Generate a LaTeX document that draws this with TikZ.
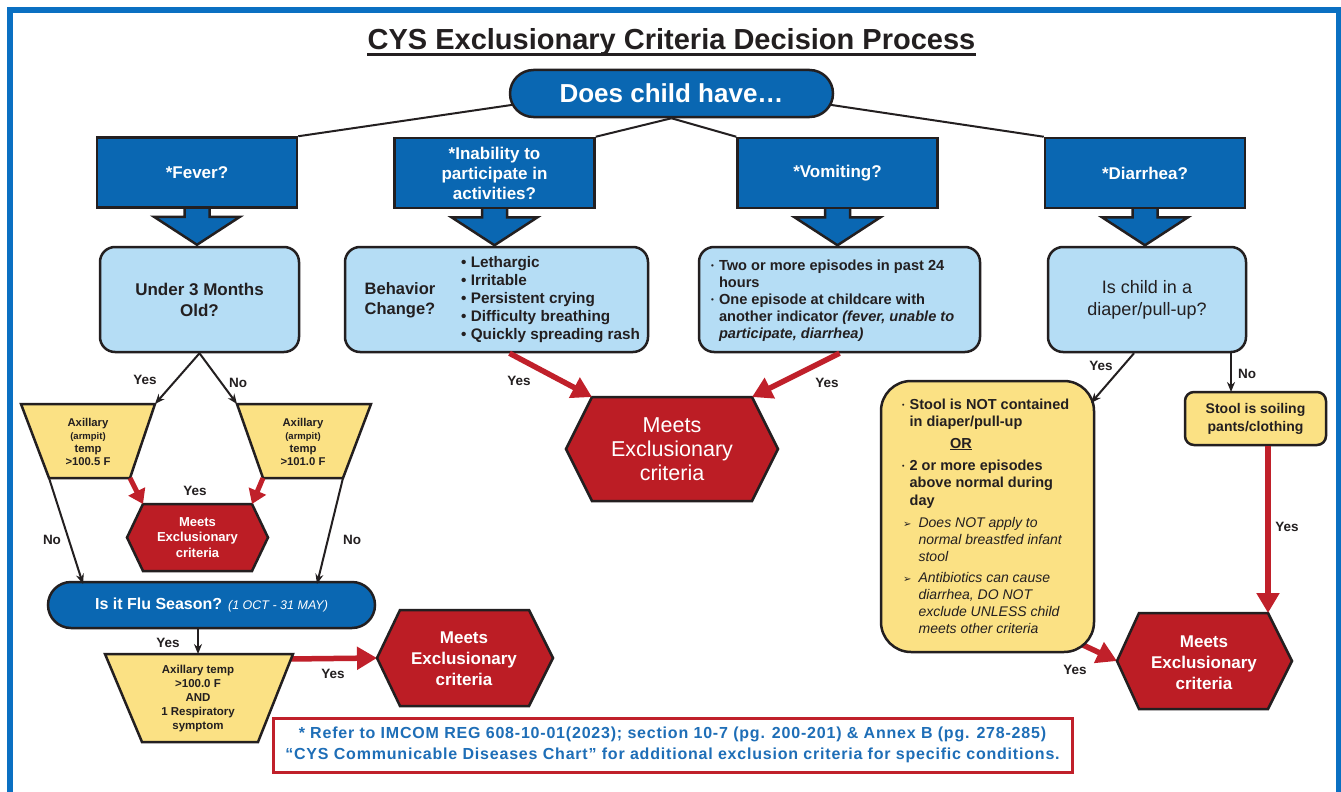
\documentclass[tikz,border=0pt]{standalone}
\usepackage{fontspec}
\setmainfont{Liberation Sans}
\newfontfamily\dejavu{DejaVu Sans}
\newfontfamily\notefont[LetterSpace=5]{Liberation Sans}
\usetikzlibrary{arrows.meta,calc}
\pgfdeclarelayer{bg}
\pgfsetlayers{bg,main}
\definecolor{frameblue}{HTML}{0A70C2}
\definecolor{boxblue}{HTML}{0A67B2}
\definecolor{lightblue}{HTML}{B5DDF5}
\definecolor{yel}{HTML}{FBE184}
\definecolor{hexred}{HTML}{BC1D25}
\definecolor{arrred}{HTML}{C0202A}
\definecolor{outl}{HTML}{231F20}
\definecolor{notetxt}{HTML}{1E6EB7}
\newcommand\fs[2]{\fontsize{#1}{#2}\selectfont}
\newcommand\blockarrow[1]{%
  \path[barrow] ($(#1.south)+(-12.5,-2)$) -- ($(#1.south)+(-12.5,8)$) -- ($(#1.south)+(-43,8)$)
    -- ($(#1.south)+(0,36)$) -- ($(#1.south)+(43,8)$) -- ($(#1.south)+(12.5,8)$)
    -- ($(#1.south)+(12.5,-2)$);}
\begin{document}
\begin{tikzpicture}[x=1pt,y=-1pt,
  outline/.style={draw=outl,line width=2.5pt},
  bluebox/.style={outline,fill=boxblue,text=white,font=\bfseries\fs{17}{20},align=center,inner sep=0pt,minimum width=200pt,minimum height=70pt},
  barrow/.style={fill=boxblue,draw=outl,line width=2.5pt,line join=miter},
  lightbox/.style={outline,fill=lightblue,rounded corners=15pt,inner sep=0pt,minimum width=#1,minimum height=105pt,align=center},
  ovalbox/.style={outline,fill=boxblue,text=white,inner sep=0pt,align=center},
  trap/.style={outline,fill=yel,line join=miter},
  traptext/.style={inner sep=0pt,align=center,text=outl,font=\bfseries\fs{11.3}{13}},
  hexshape/.style={outline,fill=hexred,line join=miter},
  hextext/.style={inner sep=0pt,align=center,text=white},
  yelbox/.style={outline,fill=yel,inner sep=0pt,align=center},
  conn/.style={draw=outl,line width=2pt},
  carrow/.style={conn,-{Stealth[length=10pt,width=8pt]}},
  rarrow/.style={draw=arrred,line width=5.5pt,-{Triangle[length=20pt,width=22pt]}},
  rarrowS/.style={draw=arrred,line width=5pt,-{Triangle[length=14pt,width=18pt]}},
  lbl/.style={inner sep=0pt,text=outl,font=\bfseries\fs{13.5}{16}},
  txt/.style={inner sep=0pt,text=outl}
]
\useasboundingbox (0,0) rectangle (1341,792);
\draw[frameblue,line width=5.5pt,line join=miter] (10,800) -- (10,10) -- (1339,10) -- (1339,800);

% title
\node[txt,font=\bfseries\fs{29}{33}] (title) at (671.5,42) {CYS Exclusionary Criteria Decision Process};
\draw[outl,line width=2.5pt] ($(title.base west)+(0,5)$) -- ($(title.base east)+(0,5)$);

% top oval
\node[ovalbox,rounded corners=23.5pt,minimum width=323pt,minimum height=47pt,font=\bfseries\fs{26}{30}] (does) at (671.5,93.5) {Does child have…};

% blue boxes
\node[bluebox] (fever) at (197,172.5) {*Fever?};
\node[bluebox] (inab) at (494.5,173) {*Inability to\\participate in\\activities?};
\node[bluebox] (vomit) at (837.5,173) {*Vomiting?};
\node[bluebox] (diarr) at (1145,173) {*Diarrhea?};

% light boxes
\node[lightbox=199pt,text=outl,font=\bfseries\fs{17}{21}] (under) at (199.5,299.5) {Under 3 Months\\Old?};
\node[lightbox=303pt] (behav) at (496.5,299.5) {};
\node[txt,align=left,font=\bfseries\fs{16.5}{20}] (behavq) at (400,300) {Behavior\\Change?};
\node[txt,anchor=west,align=left,font=\bfseries\fs{15.3}{18.2}] (behavl) at (461,299.5)
  {\textbullet\ Lethargic\\\textbullet\ Irritable\\\textbullet\ Persistent crying\\\textbullet\ Difficulty breathing\\\textbullet\ Quickly spreading rash};
\node[lightbox=281pt] (vbox) at (839.5,299.5) {};
\node[txt,anchor=base west,font=\bfseries\fs{14.6}{17}] (vtext) at (711,270)
  {\begin{tabular}[t]{@{}l@{\hspace{5pt}}l@{}}
   \raisebox{1.5pt}{\fs{8}{8}\textbullet} & Two or more episodes in past 24\\
   & hours\\
   \raisebox{1.5pt}{\fs{8}{8}\textbullet} & One episode at childcare with\\
   & another indicator \textit{(fever, unable to}\\
   & \textit{participate, diarrhea)}
   \end{tabular}};
\node[lightbox=198pt,text=outl,font=\fs{18}{22}] (diaper) at (1147,299.5) {Is child in a\\diaper/pull-up?};

% fever branch trapezoids
\draw[trap] (21,404) coordinate (axL-tl) -- (155,404) coordinate (axL-tr) -- (130,478) coordinate (axL-br) -- (49,478) coordinate (axL-bl) -- cycle;
\node[traptext] (axLt) at (88,441.5) {Axillary\\{\fs{9.5}{13}(armpit)}\\temp\\>100.5 F};
\draw[trap] (237,404) coordinate (axR-tl) -- (371,404) coordinate (axR-tr) -- (343,478) coordinate (axR-br) -- (263,478) coordinate (axR-bl) -- cycle;
\node[traptext] (axRt) at (303,441.5) {Axillary\\{\fs{9.5}{13}(armpit)}\\temp\\>101.0 F};

% small hexagon
\draw[hexshape] (143,504) coordinate (hs-tl) -- (252,504) coordinate (hs-tr) -- (268,537.5) -- (252,571) -- (143,571) -- (127,537.5) -- cycle;
\node[hextext,font=\bfseries\fs{13}{15.5}] (hs) at (197.5,537.5) {Meets\\Exclusionary\\criteria};

% flu oval
\node[ovalbox,rounded corners=23pt,minimum width=327pt,minimum height=46pt,font=\bfseries\fs{16}{20}] (flu) at (211.5,605) {Is it Flu Season? {\mdseries\itshape\fs{12.5}{15}(1 OCT - 31 MAY)}};
\coordinate (fluL) at (83,584);
\coordinate (fluR) at (317,584);

% bottom trapezoid
\draw[trap] (105,654) coordinate (bt-tl) -- (293,654) coordinate (bt-tr) -- (258,742) -- (142,742) -- cycle;
\coordinate (bt-top) at (198,654);
\coordinate (bt-r) at (289,659);
\node[traptext,font=\bfseries\fs{11.5}{14}] (btt) at (198,698.5) {Axillary temp\\>100.0 F\\AND\\1 Respiratory\\symptom};

% bottom-left hexagon
\draw[hexshape] (400,610) -- (529,610) -- (553,658) -- (529,706) -- (400,706) -- (377,658) coordinate (hb-l) -- cycle;
\node[hextext,font=\bfseries\fs{17}{21}] (hb) at (464,659) {Meets\\Exclusionary\\criteria};

% middle hexagon
\draw[hexshape] (592,397) coordinate (hm-tl) -- (752,397) coordinate (hm-tr) -- (778,449) -- (752,501) -- (592,501) -- (566,449) -- cycle;
\node[hextext,font=\fs{21.5}{24}] (hm) at (672,449) {Meets\\Exclusionary\\criteria};

% diarrhea branch
\node[yelbox,rounded corners=30pt,minimum width=213pt,minimum height=271pt] (stool) at (987.5,516.5) {};
\coordinate (stoolTR) at (1091,403);
\coordinate (stoolBR) at (1083,645);
\node[txt,anchor=base west,font=\bfseries\fs{14.5}{17.5}] (s1) at (902,409)
  {\begin{tabular}[t]{@{}l@{\hspace{5pt}}l@{}}\raisebox{1.5pt}{\fs{7}{7}\textbullet} & Stool is NOT contained\\ & in diaper/pull-up\end{tabular}};
\node[txt,anchor=base,font=\bfseries\fs{14.5}{17.5}] (sor) at (961,448) {\underline{OR}};
\node[txt,anchor=base west,font=\bfseries\fs{14.5}{17.5}] (s2) at (902,470)
  {\begin{tabular}[t]{@{}l@{\hspace{5pt}}l@{}}\raisebox{1.5pt}{\fs{7}{7}\textbullet} & 2 or more episodes\\ & above normal during\\ & day\end{tabular}};
\node[txt,anchor=base west,font=\itshape\fs{14}{17.3}] (s3) at (903,527)
  {\begin{tabular}[t]{@{}l@{\hspace{7pt}}l@{}}{\dejavu\upshape\fs{10}{10}➢} & Does NOT apply to\\ & normal breastfed infant\\ & stool\end{tabular}};
\node[txt,anchor=base west,font=\itshape\fs{14}{17.3}] (s4) at (903,582)
  {\begin{tabular}[t]{@{}l@{\hspace{7pt}}l@{}}{\dejavu\upshape\fs{10}{10}➢} & Antibiotics can cause\\ & diarrhea, DO NOT\\ & exclude UNLESS child\\ & meets other criteria\end{tabular}};
\node[yelbox,rounded corners=9pt,minimum width=141pt,minimum height=53pt,text=outl,font=\bfseries\fs{14}{18}] (soil) at (1255.5,418.5) {Stool is soiling\\pants/clothing};
\coordinate (noC) at (1231,392);

% right hexagon
\draw[hexshape] (1139,613) -- (1268,613) coordinate (hr-tr) -- (1292,661) -- (1268,709) -- (1139,709) -- (1117,661) coordinate (hr-l) -- cycle;
\node[hextext,font=\bfseries\fs{17}{21}] (hr) at (1204,663) {Meets\\Exclusionary\\criteria};

% footnote
\node[draw=arrred,line width=3pt,minimum width=799pt,minimum height=54pt,inner sep=0pt,text=notetxt,align=center,font=\notefont\bfseries\fs{16}{21}] (note) at (672.5,745)
  {* Refer to IMCOM REG 608-10-01(2023); section 10-7 (pg. 200-201) \& Annex B (pg. 278-285)\\“CYS Communicable Diseases Chart” for additional exclusion criteria for specific conditions.};

% background connectors and block arrows
\begin{pgfonlayer}{bg}
  \fill[white] (0,0) rectangle (1341,792);
  \draw[conn] ($(does.west)+(6,11)$) -- (fever.north east);
  \draw[conn] (does.south) -- (inab.north east);
  \draw[conn] (does.south) -- (vomit.north west);
  \draw[conn] ($(does.east)+(-6,11)$) -- (diarr.north west);
  \blockarrow{fever}
  \blockarrow{inab}
  \blockarrow{vomit}
  \blockarrow{diarr}
  \draw[rarrow] (bt-r) -- (hb-l);
  \draw[rarrow] (stoolBR) -- (hr-l);
\end{pgfonlayer}

% connectors
\draw[carrow] (under.south) -- (axL-tr);
\draw[carrow] (under.south) -- (axR-tl);
\draw[carrow] (axL-bl) -- (fluL);
\draw[carrow] (axR-br) -- (fluR);
\draw[carrow] (flu.south -| bt-top) -- (bt-top);
\draw[rarrowS] (axL-br) -- (hs-tl);
\draw[rarrowS] (axR-bl) -- (hs-tr);
\draw[rarrow] ($(behav.south)+(13,0)$) -- (hm-tl);
\draw[rarrow] (vbox.south) -- (hm-tr);
\draw[carrow] ($(diaper.south)+(-13,0)$) -- (stoolTR);
\draw[carrow] (diaper.south -| noC) -- (noC);
\draw[rarrow] (soil.south -| hr-tr) -- (hr-tr);

% labels
\node[lbl] at (145,380) {Yes};
\node[lbl] at (238,383) {No};
\node[lbl] at (195,491) {Yes};
\node[lbl] at (52,540) {No};
\node[lbl] at (352,540) {No};
\node[lbl] at (168,643) {Yes};
\node[lbl] at (333,674) {Yes};
\node[lbl] at (519,381) {Yes};
\node[lbl] at (827,383) {Yes};
\node[lbl] at (1101,366) {Yes};
\node[lbl] at (1247,374) {No};
\node[lbl] at (1287,527) {Yes};
\node[lbl] at (1075,670) {Yes};
\end{tikzpicture}
\end{document}
